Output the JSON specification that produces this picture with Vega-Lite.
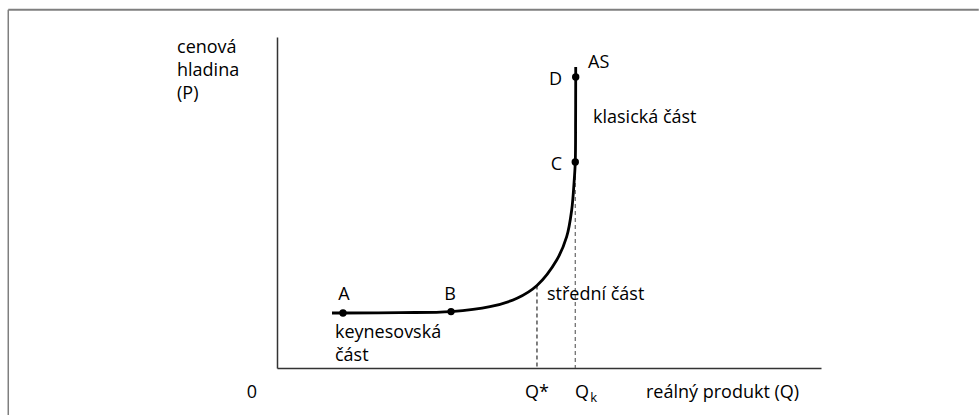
{
  "$schema": "https://vega.github.io/schema/vega-lite/v6.json",
  "autosize": {"type": "none"},
  "padding": {"left": 277, "top": 37, "right": 158, "bottom": 47},
  "width": 544,
  "height": 331,
  "background": "white",
  "config": {"view": {"stroke": null}, "text": {"font": "Open Sans", "fontSize": 18, "color": "#000000", "baseline": "alphabetic"}},
  "datasets": {
    "curve": [
      {"i": 1, "Q": 10.11, "P": 16.62},
      {"i": 2, "Q": 12.13, "P": 16.62},
      {"i": 3, "Q": 22.61, "P": 16.74},
      {"i": 4, "Q": 31.99, "P": 17.04},
      {"i": 5, "Q": 39.15, "P": 18.52},
      {"i": 6, "Q": 44.12, "P": 21.06},
      {"i": 7, "Q": 47.79, "P": 24.92},
      {"i": 8, "Q": 51.42, "P": 32.63},
      {"i": 9, "Q": 53.25, "P": 39.67},
      {"i": 10, "Q": 54.17, "P": 47.73},
      {"i": 11, "Q": 54.6, "P": 55.89},
      {"i": 12, "Q": 54.83, "P": 62.24},
      {"i": 13, "Q": 54.89, "P": 74.92},
      {"i": 14, "Q": 54.91, "P": 87.92},
      {"i": 15, "Q": 54.91, "P": 90.94}
    ],
    "pts": [
      {"name": "A", "Q": 12.13, "P": 16.62},
      {"name": "B", "Q": 31.99, "P": 17.04},
      {"name": "C", "Q": 54.83, "P": 62.24},
      {"name": "D", "Q": 54.91, "P": 87.92}
    ],
    "dashes": [
      {"name": "Q*", "Q": 47.79, "P": 24.92},
      {"name": "Qk", "Q": 54.83, "P": 62.24}
    ],
    "leftLabels": [
      {"t": "cenová", "Q": -18.38, "P": 95.17},
      {"t": "hladina", "Q": -18.38, "P": 88.22},
      {"t": "(P)", "Q": -18.38, "P": 81.27},
      {"t": "AS", "Q": 57.17, "P": 90.63},
      {"t": "klasická část", "Q": 58.09, "P": 74.02},
      {"t": "střední část", "Q": 49.63, "P": 20.54},
      {"t": "keynesovská", "Q": 10.66, "P": 9.06},
      {"t": "část", "Q": 10.66, "P": 2.11},
      {"t": "reálný produkt (Q)", "Q": 67.83, "P": -9.06},
      {"t": "Q", "Q": 54.78, "P": -9.06}
    ],
    "centerLabels": [
      {"t": "A", "Q": 12.32, "P": 20.54},
      {"t": "B", "Q": 31.8, "P": 20.54},
      {"t": "0", "Q": -4.6, "P": -9.06},
      {"t": "Q*", "Q": 47.79, "P": -9.06}
    ],
    "rightLabels": [
      {"t": "C", "Q": 52.39, "P": 59.82},
      {"t": "D", "Q": 52.39, "P": 85.5}
    ],
    "subLabels": [
      {"t": "k", "Q": 57.6, "P": -10.2}
    ],
    "frameH": [{"Q": -49.4, "Q2": 129, "P": 108.2}],
    "frameV": [{"Q": -49.4, "P": -20, "P2": 108.2}]
  },
  "encoding": {
    "x": {"field": "Q", "type": "quantitative", "scale": {"domain": [0, 100], "nice": false, "zero": false}, "axis": {"labels": false, "ticks": false, "grid": false, "title": null, "domainColor": "#333333", "domainWidth": 1.5}},
    "y": {"field": "P", "type": "quantitative", "scale": {"domain": [0, 100], "nice": false, "zero": false}, "axis": {"labels": false, "ticks": false, "grid": false, "title": null, "domainColor": "#333333", "domainWidth": 1.5}}
  },
  "layer": [
    {"data": {"name": "frameH"}, "mark": {"type": "rule", "color": "#7f7f7f", "strokeWidth": 2}, "encoding": {"x2": {"field": "Q2"}}},
    {"data": {"name": "frameV"}, "mark": {"type": "rule", "color": "#7f7f7f", "strokeWidth": 1.5}, "encoding": {"y2": {"field": "P2"}}},
    {"data": {"name": "dashes"}, "transform": [{"filter": "datum.name == 'Q*'"}], "mark": {"type": "rule", "color": "#000000", "strokeWidth": 1, "strokeDash": [4, 3]}, "encoding": {"y2": {"datum": 0}}},
    {"data": {"name": "dashes"}, "transform": [{"filter": "datum.name == 'Qk'"}], "mark": {"type": "rule", "color": "#666666", "strokeWidth": 1.2, "strokeDash": [4, 3]}, "encoding": {"y2": {"datum": 0}}},
    {"data": {"name": "curve"}, "mark": {"type": "line", "color": "#000000", "strokeWidth": 2.8, "interpolate": "catmull-rom"}, "encoding": {"order": {"field": "i", "type": "quantitative"}}},
    {"data": {"name": "pts"}, "mark": {"type": "point", "filled": true, "color": "#000000", "size": 55, "opacity": 1}, "encoding": {}},
    {"data": {"name": "leftLabels"}, "mark": {"type": "text", "align": "left"}, "encoding": {"text": {"field": "t"}}},
    {"data": {"name": "centerLabels"}, "mark": {"type": "text", "align": "center"}, "encoding": {"text": {"field": "t"}}},
    {"data": {"name": "rightLabels"}, "mark": {"type": "text", "align": "right"}, "encoding": {"text": {"field": "t"}}},
    {"data": {"name": "subLabels"}, "mark": {"type": "text", "align": "left", "fontSize": 13}, "encoding": {"text": {"field": "t"}}}
  ]
}
